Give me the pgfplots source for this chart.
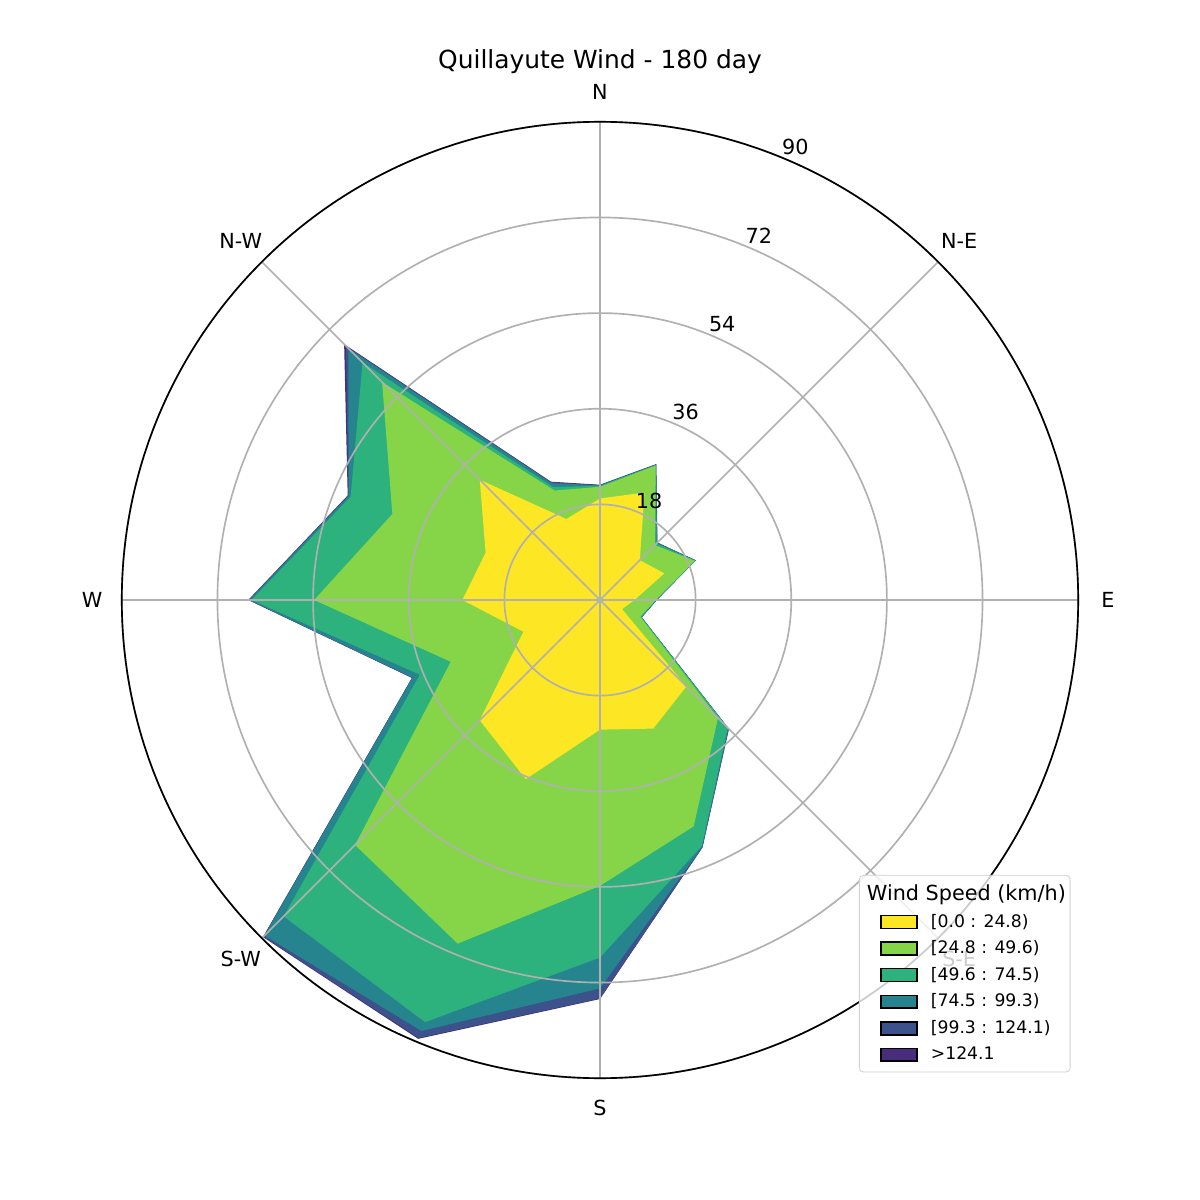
\documentclass[border=0pt]{standalone}
\usepackage{pgfplots}
\pgfplotsset{compat=1.18}
\usepackage{pgfplotstable}
\usepgfplotslibrary{polar}
\usepackage{fontspec}
\setmainfont{DejaVu Sans}
\definecolor{c1}{HTML}{FDE725}
\definecolor{c2}{HTML}{86D549}
\definecolor{c3}{HTML}{2DB27D}
\definecolor{c4}{HTML}{25848E}
\definecolor{c5}{HTML}{3B528B}
\definecolor{c6}{HTML}{472D7B}
\definecolor{gridgray}{HTML}{B0B0B0}

% angle (pgf, counter-clockwise from east) and cumulative wind frequency per speed bin
\pgfplotstableread{
ang   L1   L2   L3   L4   L5   L6
90    19.1 21.3 21.5 21.6 21.6 21.7
67.5  21.9 27.4 27.5 27.6 27.6 27.7
45    10.6 14.6 15.0 15.2 15.2 15.3
22.5  13.1 19.3 19.4 19.5 19.5 19.5
0     6.5  10.5 10.6 10.7 10.7 10.7
337.5 4.5  8.2  8.4  8.5  8.5  8.5
315   23.0 31.4 34.0 34.2 34.3 34.3
292.5 26.2 46.1 50.1 50.3 50.4 50.4
270   24.4 53.8 67.3 73.1 75.0 75.1
247.5 36.5 70.0 86.0 87.8 89.2 89.4
225   32.0 65.2 84.2 89.3 89.6 89.7
202.5 15.6 30.4 36.7 38.2 38.3 38.3
180   25.9 53.8 65.6 66.0 66.1 66.2
157.5 23.3 42.3 50.8 51.2 51.3 51.4
135   32.0 58.0 63.2 67.0 67.6 68.1
112.5 16.5 22.3 23.0 23.8 24.0 24.1
90    19.1 21.3 21.5 21.6 21.6 21.7
}\windtable

\tikzset{dirlab/.style={font=\fontsize{10}{12}\selectfont, anchor=center},
  rlab/.style={font=\fontsize{10}{12}\selectfont, anchor=center, xshift=6pt, yshift=5.3pt}}

\begin{document}
\begin{tikzpicture}
\begin{polaraxis}[
  scale only axis, width=460.8pt, height=460.8pt,
  xmin=0, xmax=360, ymin=0, ymax=90,
  xtick={0,45,...,315}, xticklabels={},
  ytick={18,36,54,72,90}, yticklabels={},
  major tick length=0pt,
  grid=major,
  major grid style={draw=gridgray, line width=0.8pt},
  axis line style={black, line width=0.8pt},
  y axis line style={draw=none},
  axis on top,
  clip=false,
  legend cell align=left,
  legend image code/.code={\path (0pt,0pt); \draw[#1, sharp corners, draw=black, line width=0.7pt, fill opacity=1] (6.3pt,-3.1pt) rectangle (23.6pt,3.1pt);},
  legend style={at={(0.992,0.006)}, anchor=south east,
    font=\fontsize{8.3}{10}\selectfont,
    draw=black!18, rounded corners=2pt, fill=white, fill opacity=0.8, text opacity=1, draw opacity=1,
    row sep=1pt, inner xsep=4pt, inner ysep=2.5pt,
    /tikz/every odd column/.append style={column sep=4.3pt}},
]
\addplot[fill=c6, draw=none, forget plot] table[x=ang, y=L6] {\windtable};
\addplot[fill=c5, draw=none, forget plot] table[x=ang, y=L5] {\windtable};
\addplot[fill=c4, draw=none, forget plot] table[x=ang, y=L4] {\windtable};
\addplot[fill=c3, draw=none, forget plot] table[x=ang, y=L3] {\windtable};
\addplot[fill=c2, draw=none, forget plot] table[x=ang, y=L2] {\windtable};
\addplot[fill=c1, draw=none, forget plot] table[x=ang, y=L1] {\windtable};

\addlegendimage{empty legend}
\addlegendentry{\hspace{-30.8pt}\makebox[91.9pt][l]{\fontsize{10}{11}\selectfont Wind Speed (km/h)}}
\addlegendimage{fill=c1}\addlegendentry{[0.0 : 24.8)}
\addlegendimage{fill=c2}\addlegendentry{[24.8 : 49.6)}
\addlegendimage{fill=c3}\addlegendentry{[49.6 : 74.5)}
\addlegendimage{fill=c4}\addlegendentry{[74.5 : 99.3)}
\addlegendimage{fill=c5}\addlegendentry{[99.3 : 124.1)}
\addlegendimage{fill=c6}\addlegendentry{>124.1}

\coordinate (C) at (axis cs:0,0);
\node[dirlab] at (axis cs:90,95.6) {N};
\node[dirlab] at (axis cs:45,95.6) {N-E};
\node[dirlab] at (axis cs:0,95.6) {E};
\node[dirlab] at (axis cs:315,95.6) {S-E};
\node[dirlab] at (axis cs:270,95.6) {S};
\node[dirlab] at (axis cs:225,95.6) {S-W};
\node[dirlab] at (axis cs:180,95.6) {W};
\node[dirlab] at (axis cs:135,95.6) {N-W};
\node[rlab] at (axis cs:67.5,18) {18};
\node[rlab] at (axis cs:67.5,36) {36};
\node[rlab] at (axis cs:67.5,54) {54};
\node[rlab] at (axis cs:67.5,72) {72};
\node[rlab] at (axis cs:67.5,90) {90};
\end{polaraxis}
\node[font=\fontsize{12}{14}\selectfont] at ([yshift=259.2pt]C) {Quillayute Wind - 180 day};
\path (C) ++(-289.08pt,-289.08pt) rectangle ++(578.16pt,578.16pt);
\end{tikzpicture}
\end{document}
